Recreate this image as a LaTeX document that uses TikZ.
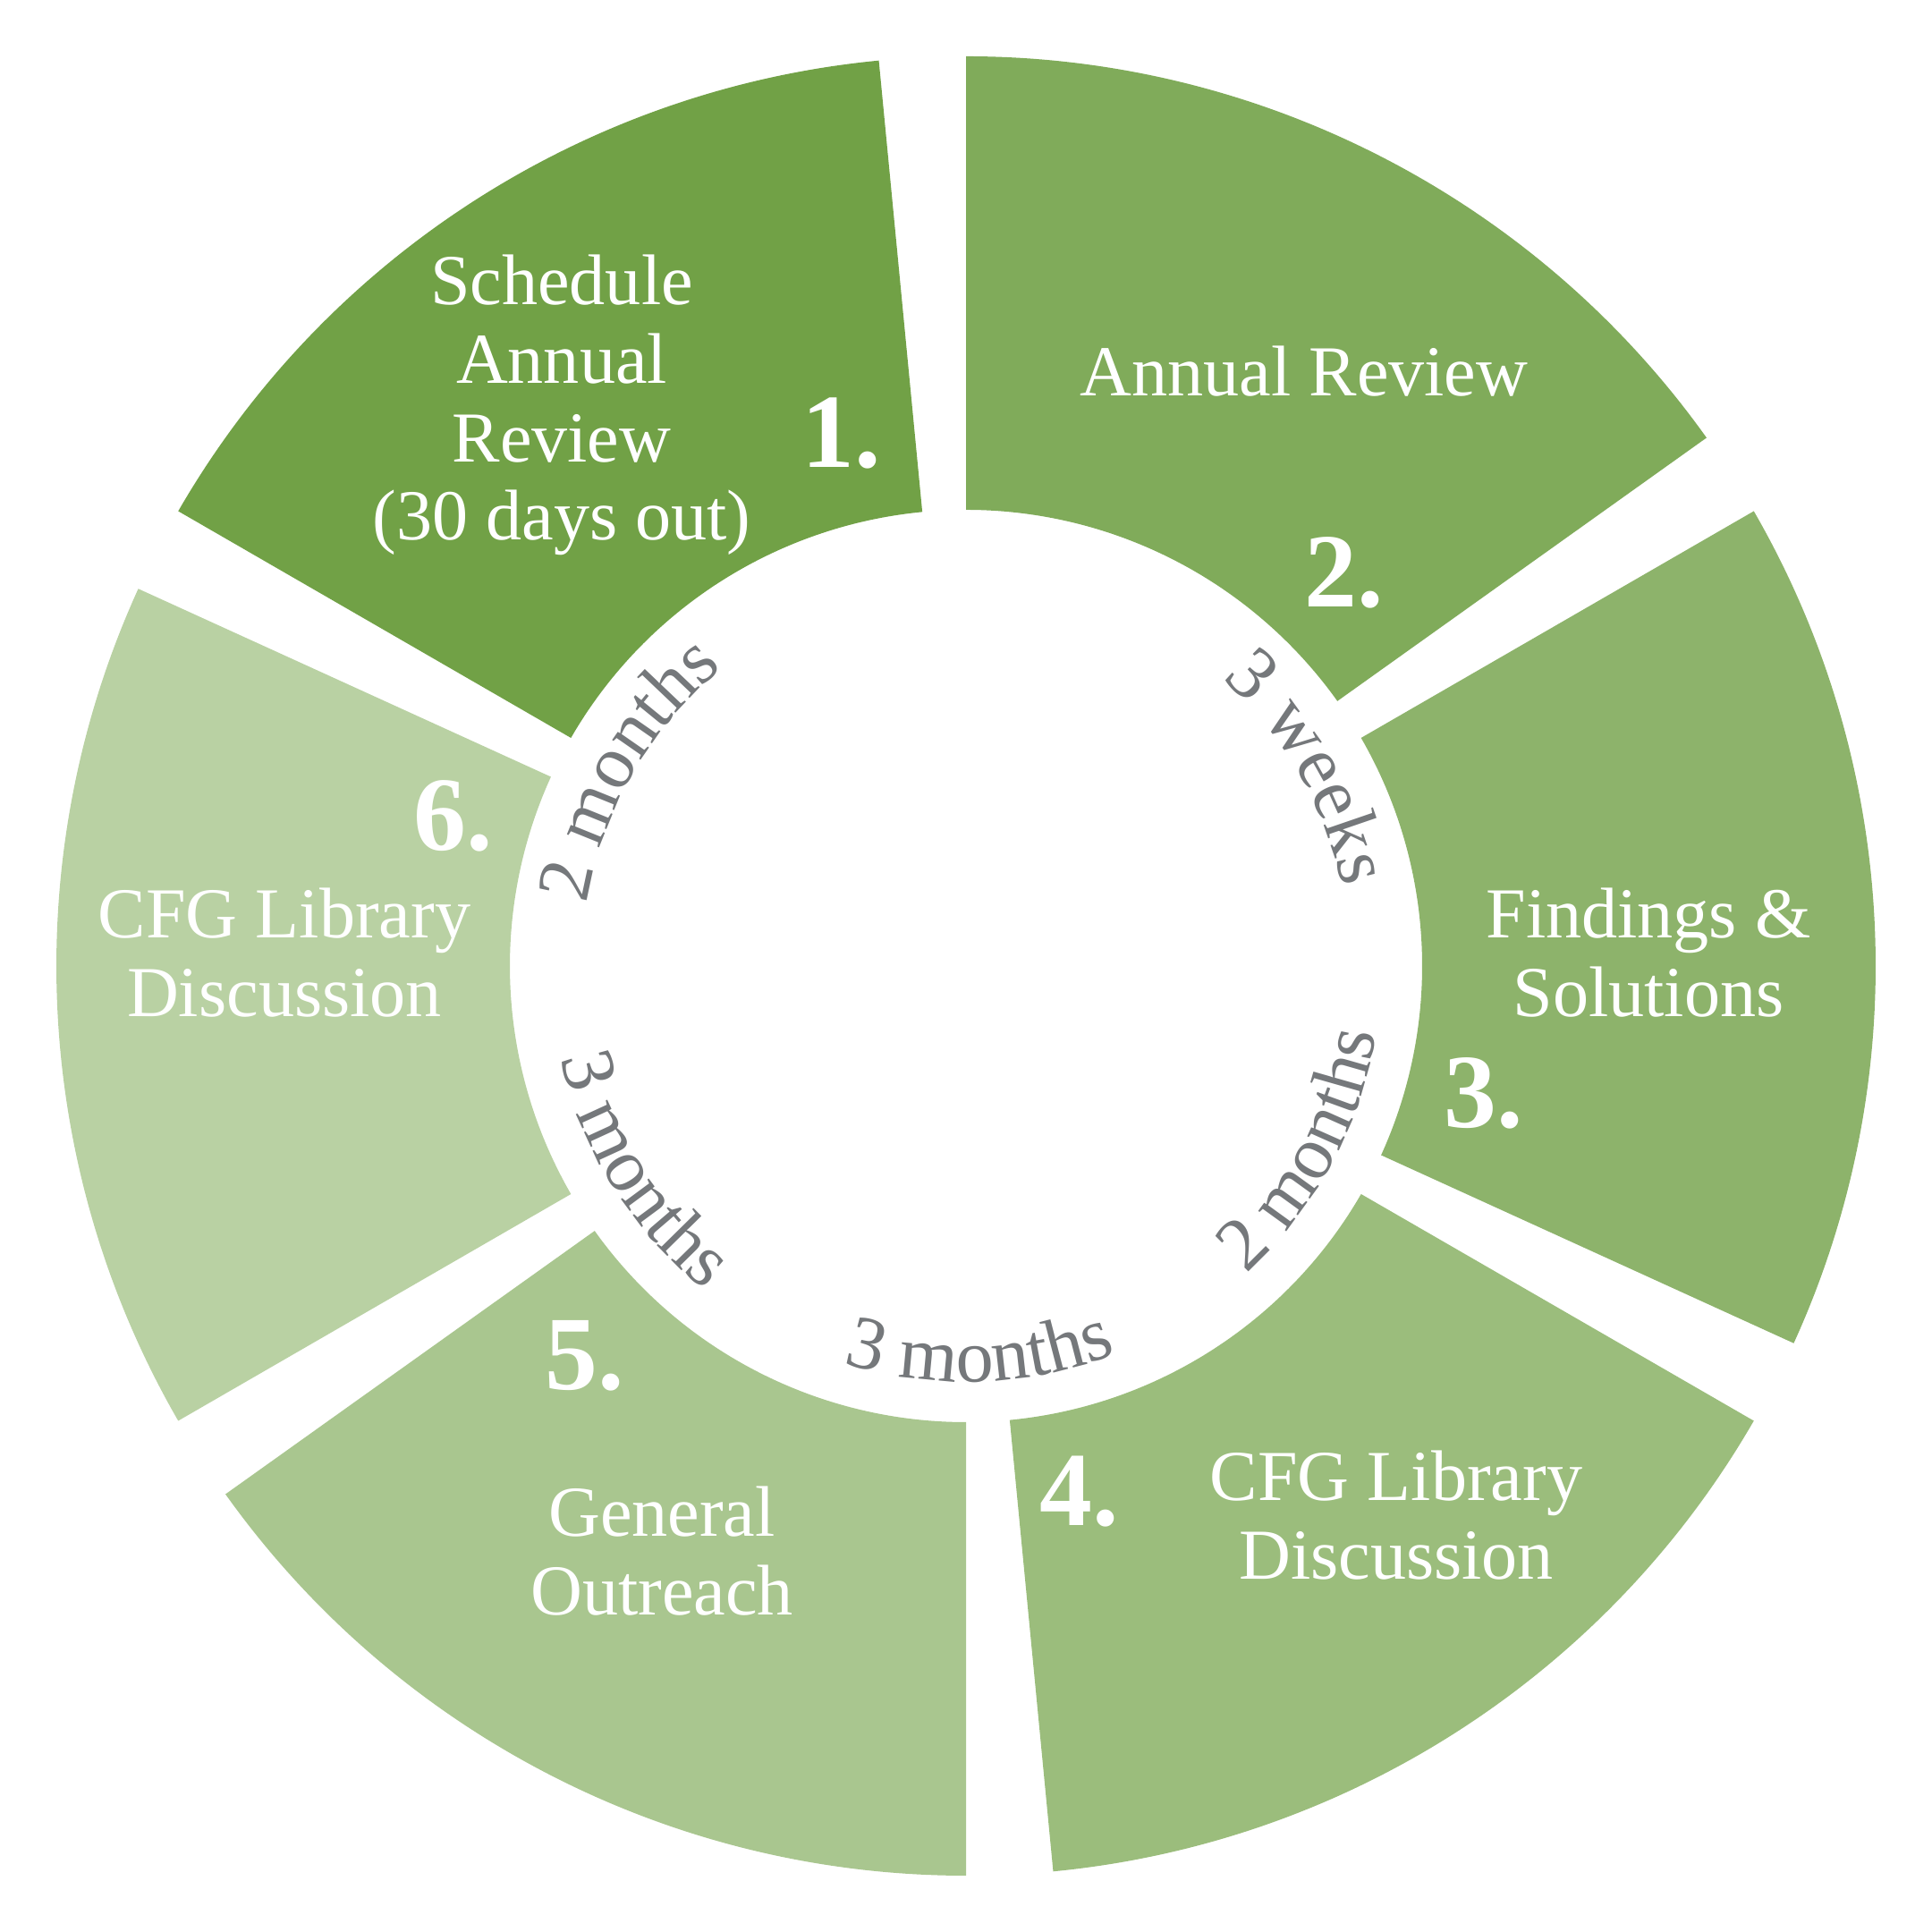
\documentclass[tikz,border=0pt]{standalone}
\usepackage{fontspec}
\setmainfont{Liberation Serif}
\usetikzlibrary{decorations.text}
\definecolor{stepA}{HTML}{71A146}
\definecolor{stepB}{HTML}{80AB5A}
\definecolor{stepC}{HTML}{8DB36B}
\definecolor{stepD}{HTML}{9BBD7C}
\definecolor{stepE}{HTML}{A9C68F}
\definecolor{stepF}{HTML}{B9D1A3}
\definecolor{durgray}{HTML}{75787B}
\tikzset{
  phase/.style={text=white,inner sep=0pt,align=center,font=\fontsize{22.8}{25}\selectfont},
  stepnum/.style={text=white,inner sep=0pt,font=\fontsize{33.5}{36}\selectfont\bfseries},
  interval/.style={decorate,decoration={text along path,text align=center,text color=durgray,
    text={|\fontsize{24}{26}\selectfont|#1}}}
}

\begin{document}
\begin{tikzpicture}
\useasboundingbox (0,0) rectangle (21.6,21.6);

\begin{scope}[shift={(10.8,10.8)}]
\foreach \a/\c in {150/stepA,90/stepB,30/stepC,-30/stepD,-90/stepE,-150/stepF}
  \fill[\c] (\a:10.17) arc[start angle=\a,end angle=\a-54.5,radius=10.17]
    -- ({\a-54.5}:5.10) arc[start angle=\a-54.5,end angle=\a,radius=5.10] -- cycle;

\path[interval=3 weeks] (60:4.30) arc[start angle=60,end angle=0,radius=4.30];
\path[interval=2 months] (180:4.30) arc[start angle=180,end angle=120,radius=4.30];
\path[interval=2 months] (-58.5:4.65) arc[start angle=-58.5,end angle=1.5,radius=4.65];
\path[interval=3 months] (-118:4.65) arc[start angle=-118,end angle=-58,radius=4.65];
\path[interval=3 months] (-178:4.65) arc[start angle=-178,end angle=-118,radius=4.65];
\end{scope}

\node[phase] (sched) at (6.28,17.07) {Schedule\\Annual\\Review\\(30 days out)};
\node[phase] (review) at (14.58,17.45) {Annual Review};
\node[phase] (findings) at (18.43,10.95) {Findings \&\\Solutions};
\node[phase] (libA) at (15.61,4.66) {CFG Library\\Discussion};
\node[phase] (outreach) at (7.40,4.26) {General\\Outreach};
\node[phase] (libB) at (3.18,10.95) {CFG Library\\Discussion};

\node[stepnum] (n1) at (9.41,16.75) {1.};
\node[stepnum] (n2) at (15.03,15.20) {2.};
\node[stepnum] (n3) at (16.59,9.38) {3.};
\node[stepnum] (n4) at (12.07,4.92) {4.};
\node[stepnum] (n5) at (6.54,6.44) {5.};
\node[stepnum] (n6) at (5.07,12.48) {6.};

\end{tikzpicture}
\end{document}
